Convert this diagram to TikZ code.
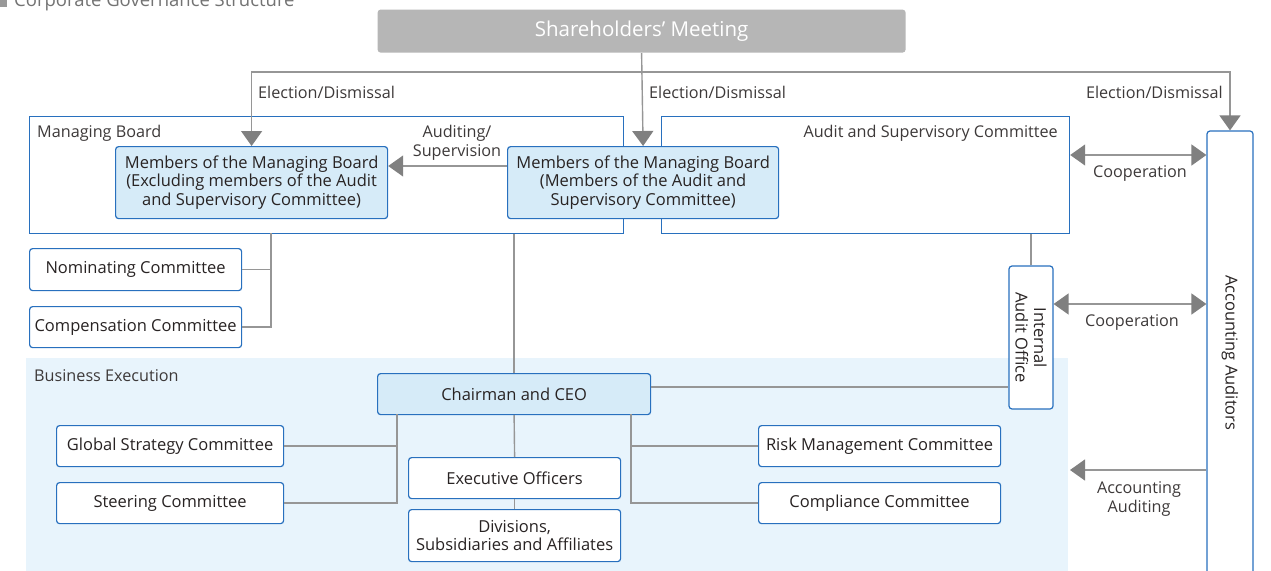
\documentclass[tikz,border=0pt]{standalone}
\usepackage{fontspec}
\setmainfont{Open Sans}
\usetikzlibrary{arrows.meta}
\definecolor{bdr}{RGB}{40,112,190}
\definecolor{lfill}{RGB}{214,235,248}
\definecolor{bizfill}{RGB}{232,244,252}
\definecolor{shmfill}{RGB}{182,182,182}
\definecolor{lngray}{RGB}{150,150,150}
\definecolor{arrgray}{RGB}{128,128,128}
\definecolor{txt}{RGB}{40,35,35}
\newcommand{\fs}{\fontsize{16.5}{18.5}\selectfont}
\newcommand{\lfs}{\fontsize{16.2}{18.5}\selectfont}
\begin{document}
\begin{tikzpicture}[x=1pt,y=-1pt,
  box/.style={draw=bdr,line width=1.2pt,rounded corners=3pt,fill=white,align=center,inner sep=0pt,anchor=north west,font=\fs,text=txt},
  hibox/.style={box,fill=lfill},
  frame/.style={draw=bdr,line width=1.2pt,anchor=north west,inner sep=0pt},
  lbl/.style={font=\lfs,text=txt!90,align=center,inner sep=0pt},
  ln/.style={draw=lngray,line width=1.4pt,-{Triangle[width=21pt,length=15pt,color=arrgray]}},
  ln2/.style={ln,{Triangle[width=21pt,length=15pt,color=arrgray]}-{Triangle[width=21pt,length=15pt,color=arrgray]}},
  plain/.style={draw=lngray,line width=1.4pt}]
\useasboundingbox (0,0) rectangle (1271,570);
% title (cut at the top)
\fill[gray!80] (0,-4) rectangle (7,7);
\node[anchor=base west,font=\fontsize{18.5}{20}\selectfont,text=gray!90!black,inner sep=0pt] (ttl) at (14,6) {Corporate Governance Structure};
% business execution area
\fill[bizfill] (26,358) rectangle (1068,575);
\node[lbl,anchor=west] (biz) at (34,376) {Business Execution};
% boxes
\node[box,draw=none,fill=shmfill,minimum width=528,minimum height=43,text=white,font=\fontsize{20.5}{22}\selectfont] (shm) at (377,9) {Shareholders’ Meeting};
\node[frame,minimum width=594,minimum height=117] (mbd) at (29,116) {};
\node[lbl,anchor=west] (mbdl) at (37,133) {Managing Board};
\node[frame,minimum width=408,minimum height=117] (asc) at (661,116) {};
\node[lbl,anchor=east] (ascl) at (1058,133) {Audit and Supervisory Committee};
\node[hibox,minimum width=272,minimum height=72] (mex) at (115,146) {Members of the Managing Board\\(Excluding members of the Audit\\and Supervisory Committee)};
\node[hibox,minimum width=271,minimum height=72] (mab) at (507,146) {Members of the Managing Board\\(Members of the Audit and\\Supervisory Committee)};
\node[box,anchor=center,rotate=-90,minimum width=444,minimum height=46] (acc) at (1230,353) {Accounting Auditors};
\node[box,anchor=center,rotate=-90,minimum width=143,minimum height=44] (iao) at (1031,337.5) {Internal\\Audit Office};
\node[box,minimum width=212,minimum height=42] (nom) at (29,248) {Nominating Committee};
\node[box,minimum width=212,minimum height=41] (comp) at (29,306) {Compensation Committee};
\node[hibox,minimum width=273,minimum height=41] (ceo) at (377,373) {Chairman and CEO};
\node[box,minimum width=227,minimum height=41] (gsc) at (56,425) {Global Strategy Committee};
\node[box,minimum width=227,minimum height=41] (stc) at (56,482) {Steering Committee};
\node[box,minimum width=212,minimum height=41] (exo) at (408,457) {Executive Officers};
\node[box,minimum width=212,minimum height=52] (dvs) at (408,509) {Divisions,\\Subsidiaries and Affiliates};
\node[box,minimum width=242,minimum height=41] (rmc) at (758,425) {Risk Management Committee};
\node[box,minimum width=242,minimum height=41] (cmp) at (758,482) {Compliance Committee};
% election / dismissal
\coordinate (elec) at (shm.south |- 0,72);
\draw[ln] (shm.south) -- (mab.north);
\draw[ln] (elec) -| (mex.north);
\draw[ln] (elec) -| (acc.west);
\node[lbl,anchor=west] (el1) at (258,92) {Election/Dismissal};
\node[lbl,anchor=west] (el2) at (649,92) {Election/Dismissal};
\node[lbl,anchor=east] (el3) at (1223,92) {Election/Dismissal};
% auditing and cooperation
\draw[ln] (mab.west |- 0,166) -- (mex.east |- 0,166);
\node[lbl] (ausu) at (457,143) {Auditing/\\Supervision};
\draw[ln2] (asc.east |- 0,155) -- (acc.south |- 0,155);
\node[lbl] (coo1) at (1140,173) {Cooperation};
\draw[ln2] (iao.north |- 0,304) -- (acc.south |- 0,304);
\node[lbl] (coo2) at (1132,322) {Cooperation};
\coordinate (aud) at (1070,470);
\draw[ln] (acc.south |- aud) -- (aud);
\node[lbl] (accau) at (1139,499) {Accounting\\Auditing};
% plain links
\coordinate (mbj) at (271,233);
\draw[plain] (nom.east) -| (mbj);
\draw[plain] (comp.east) -| (mbj);
\draw[plain] (ceo.north) -- (ceo.north |- mbd.south);
\draw[plain] (iao.west) -- (iao.west |- asc.south);
\draw[plain] (ceo.east |- 0,387) -- (iao.south |- 0,387);
\coordinate (cl) at (397,414);
\coordinate (cr) at (631,414);
\draw[plain] (gsc.east) -| (cl);
\draw[plain] (stc.east) -| (cl);
\draw[plain] (rmc.west) -| (cr);
\draw[plain] (cmp.west) -| (cr);
\draw[plain] (ceo.south) -- (exo.north);
\draw[plain] (exo.south) -- (dvs.north);
\end{tikzpicture}
\end{document}
